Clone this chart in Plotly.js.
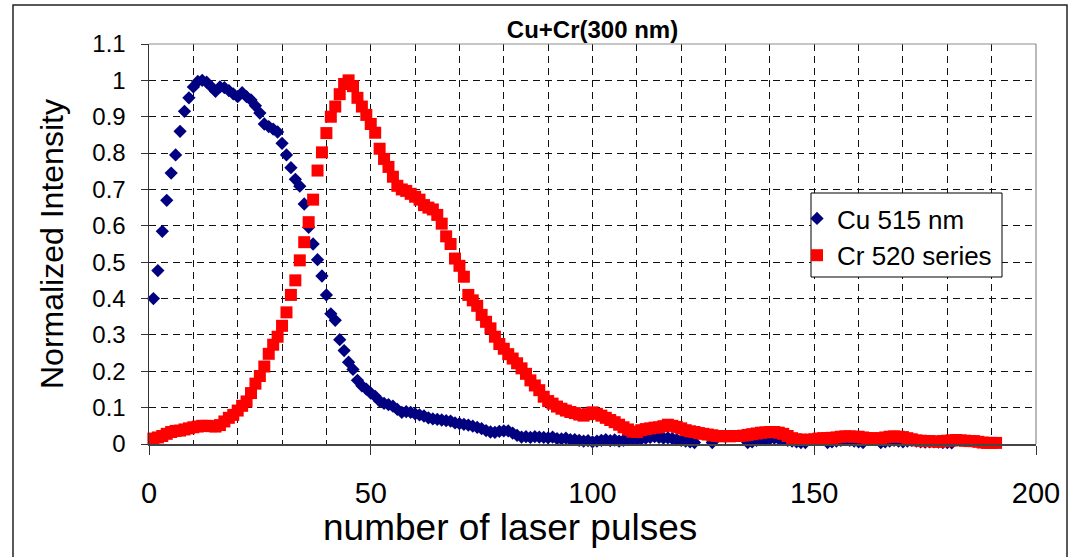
<!DOCTYPE html>
<html><head><meta charset="utf-8">
<script src="https://cdn.plot.ly/plotly-3.0.1.min.js"></script>
<style>html,body{margin:0;padding:0;background:#fff;} #chart{width:1076px;height:557px;}</style>
</head><body><div id="chart"></div>
<script>
const chartTitle = 'Cu+Cr(300 nm)';
const xTitle = 'number of laser pulses';
const yTitle = 'Normalized Intensity';
const seriesNames = ['Cu 515 nm', 'Cr 520 series'];
const xTickStep = 50;
const yTickStep = 0.1;

const pulses = [1,2,3,4,5,6,7,8,9,10,11,12,13,14,15,16,17,18,19,20,
21,22,23,24,25,26,27,28,29,30,31,32,33,34,35,36,37,38,39,40,
41,42,43,44,45,46,47,48,49,50,51,52,53,54,55,56,57,58,59,60,
61,62,63,64,65,66,67,68,69,70,71,72,73,74,75,76,77,78,79,80,
81,82,83,84,85,86,87,88,89,90,91,92,93,94,95,96,97,98,99,100,
101,102,103,104,105,106,107,108,109,110,111,112,113,114,115,116,117,118,119,120,
121,122,123,124,125,126,127,128,129,130,131,132,133,134,135,136,137,138,139,140,
141,142,143,144,145,146,147,148,149,150,151,152,153,154,155,156,157,158,159,160,
161,162,163,164,165,166,167,168,169,170,171,172,173,174,175,176,177,178,179,180,
181,182,183,184,185,186,187,188,189,190,191];

const cu515 = [
0.40,0.477,0.585,0.67,0.745,0.795,0.86,0.915,0.952,0.982,
0.997,1.0,0.995,0.983,0.97,0.982,0.98,0.972,0.963,0.955,
0.966,0.955,0.946,0.93,0.91,0.88,0.873,0.866,0.858,0.827,
0.795,0.76,0.728,0.709,0.66,0.596,0.55,0.507,0.462,0.41,
0.358,0.34,0.287,0.257,0.225,0.205,0.175,0.16,0.151,0.14,
0.131,0.118,0.112,0.108,0.104,0.095,0.087,0.089,0.087,0.083,
0.08,0.077,0.072,0.069,0.068,0.066,0.064,0.063,0.058,0.056,
0.054,0.052,0.049,0.046,0.042,0.037,0.033,0.032,0.035,0.036,
0.036,0.03,0.024,0.019,0.02,0.018,0.02,0.019,0.018,0.017,
0.019,0.015,0.014,0.016,0.012,0.012,0.01,0.008,0.009,0.006,
0.008,0.01,0.012,0.009,0.011,0.008,0.01,0.012,0.014,0.012,
0.014,0.016,0.018,0.02,0.018,0.016,0.017,0.015,0.012,0.01,
0.008,0.006,0.004,null,null,null,0.004,null,null,null,
null,null,null,null,0.004,0.006,0.01,0.012,0.012,0.014,
0.016,0.014,0.012,0.01,0.008,0.006,0.004,0.004,null,null,
null,null,0.004,0.006,0.008,0.01,0.012,0.01,0.008,0.006,
0.004,null,null,null,0.004,0.006,0.008,0.01,0.008,0.006,
0.008,0.01,0.008,0.006,0.005,0.006,0.006,0.005,0.004,0.004,0.003];

const cr520 = [
0.015,0.018,0.022,0.028,0.033,0.036,0.037,0.04,0.043,0.046,
0.048,0.05,0.05,0.049,0.048,0.052,0.062,0.072,0.08,0.092,
0.105,0.117,0.14,0.166,0.187,0.213,0.248,0.273,0.295,0.325,
0.362,0.41,0.45,0.505,0.555,0.61,0.672,0.752,0.802,0.855,
0.9,0.928,0.962,0.99,1.0,0.984,0.952,0.928,0.905,0.88,
0.856,0.812,0.784,0.762,0.735,0.71,0.7,0.696,0.688,0.68,
0.672,0.657,0.65,0.645,0.63,0.606,0.571,0.55,0.51,0.49,
0.46,0.41,0.395,0.38,0.355,0.336,0.318,0.295,0.275,0.262,
0.247,0.235,0.222,0.208,0.193,0.175,0.161,0.148,0.13,0.118,
0.111,0.103,0.097,0.092,0.088,0.085,0.081,0.078,0.082,0.087,
0.083,0.078,0.072,0.066,0.06,0.053,0.046,0.04,0.034,0.033,
0.038,0.041,0.043,0.045,0.046,0.049,0.053,0.05,0.047,0.043,
0.038,0.035,0.033,0.03,0.028,0.026,0.024,0.022,0.021,0.022,
0.021,0.022,0.022,0.023,0.025,0.027,0.029,0.031,0.032,0.033,
0.033,0.031,0.028,0.022,0.016,0.013,0.012,0.011,0.012,0.013,
0.015,0.016,0.016,0.017,0.018,0.02,0.021,0.021,0.02,0.02,
0.018,0.016,0.016,0.015,0.016,0.018,0.02,0.021,0.02,0.019,
0.016,0.013,0.01,0.009,0.008,0.008,0.007,0.006,0.008,0.009,
0.01,0.011,0.01,0.009,0.008,0.008,0.006,0.004,0.003,0.003,0.003];

const FONT = 'Liberation Sans, Arial, Helvetica, sans-serif';
const gridStyle = {showgrid:true, gridcolor:'#111', gridwidth:1, griddash:'7px,5px'};

const traces = [
  {type:'scatter', mode:'markers', name:seriesNames[0], legendgroup:'a',
   x:pulses.slice(0, cu515.length), y:cu515, cliponaxis:false,
   marker:{symbol:'diamond', size:10.2, color:'#000080', line:{width:0}}},
  {type:'scatter', mode:'markers', name:seriesNames[1], legendgroup:'b',
   x:pulses.slice(0, cr520.length), y:cr520, cliponaxis:false,
   marker:{symbol:'square', size:12, color:'#ff0000', line:{width:0}}}
];

const L = 149, R = 1036, T = 44, B = 444;
const W = R - L, H = B - T;
const px = v => (v - L) / W;
const py = v => (B - v) / H;

const layout = {
  width:1076, height:557, autosize:false,
  margin:{l:L, r:1076-R, t:T, b:557-B, pad:0},
  paper_bgcolor:'#ffffff', plot_bgcolor:'#ffffff',
  showlegend:true,
  title:{text:chartTitle, x:0.5, xref:'paper', xanchor:'center', y:1-30/557, yref:'container', yanchor:'middle',
         font:{family:FONT, size:24, color:'#000', weight:'bold'}},
  xaxis:Object.assign({
    range:[0,200], tick0:0, dtick:xTickStep, ticks:'outside', ticklen:9, tickwidth:1, tickcolor:'#333',
    showline:true, linecolor:'#444', linewidth:1.5, zeroline:false,
    tickfont:{family:FONT, size:29, color:'#000'}, ticklabelstandoff:14,
    minor:Object.assign({dtick:10, tick0:0, ticks:''}, gridStyle)
  }, gridStyle),
  yaxis:Object.assign({
    range:[0,1.1], tick0:0, dtick:yTickStep, ticks:'outside', ticklen:7, tickwidth:1, tickcolor:'#333',
    showline:true, linecolor:'#333', linewidth:1.5, zeroline:false,
    tickfont:{family:FONT, size:24, color:'#000'}, ticklabelstandoff:10
  }, gridStyle),
  legend:{x:px(797), y:py(195), xanchor:'left', yanchor:'top', bgcolor:'rgba(0,0,0,0)', borderwidth:0,
          font:{family:FONT, size:26, color:'#000'}, tracegroupgap:9, traceorder:'normal'},
  annotations:[
    {text:xTitle, xref:'paper', yref:'paper', x:px(510), y:py(527), xanchor:'center', yanchor:'middle', showarrow:false,
     font:{family:FONT, size:37, color:'#000'}},
    {text:yTitle, xref:'paper', yref:'paper', x:px(52), y:0.5, xanchor:'center', yanchor:'middle', showarrow:false, textangle:-90,
     font:{family:FONT, size:32, color:'#000'}}
  ],
  shapes:[
    {type:'rect', xref:'paper', yref:'paper', x0:px(13), x1:px(1067), y0:py(620), y1:py(5), line:{color:'#222', width:1.5}, layer:'below'},
    {type:'line', xref:'paper', yref:'paper', x0:0, x1:1, y0:1, y1:1, line:{color:'#8c8c8c', width:1.2}, layer:'above'},
    {type:'line', xref:'paper', yref:'paper', x0:1, x1:1, y0:0, y1:1, line:{color:'#8c8c8c', width:1.2}, layer:'above'},
    {type:'rect', xref:'paper', yref:'paper', x0:px(811), x1:px(1002), y0:py(277), y1:py(193), fillcolor:'#fff', line:{color:'#000', width:1}, layer:'above'}
  ]
};

Plotly.newPlot('chart', traces, layout, {staticPlot:true, displayModeBar:false});
</script></body></html>
